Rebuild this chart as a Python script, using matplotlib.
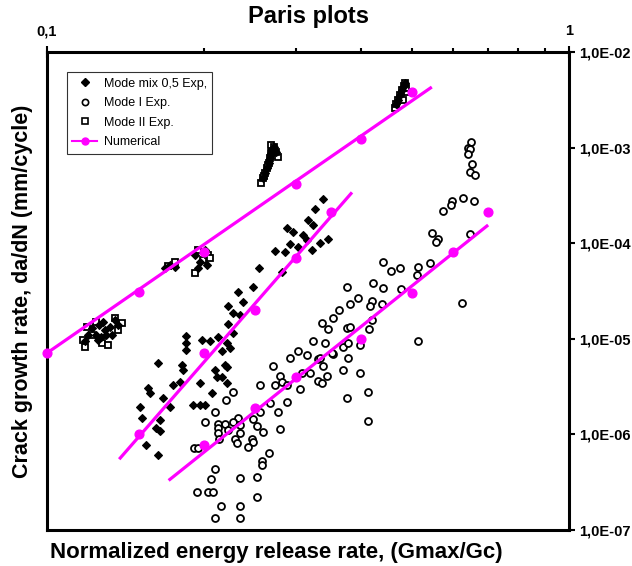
import numpy as np
import matplotlib
matplotlib.use("Agg")
from matplotlib import pyplot as plt
from matplotlib.lines import Line2D
from matplotlib.ticker import FixedLocator, NullLocator, NullFormatter

plt.rcParams['font.family'] = ['Liberation Sans', 'DejaVu Sans']

# Mode I experimental points (open circles)
mode1_x = [0.648, 0.64, 0.645, 0.64, 0.651, 0.645, 0.662, 0.626, 0.657, 0.596, 0.593, 0.573,
           0.645, 0.546, 0.560, 0.555, 0.623,
           0.44, 0.474, 0.456, 0.513, 0.541, 0.511, 0.421, 0.44, 0.375, 0.476, 0.394, 0.419,
           0.380, 0.415, 0.438, 0.362, 0.353, 0.336, 0.345, 0.375, 0.380, 0.413, 0.419, 0.323,
           0.341, 0.369, 0.377, 0.397, 0.513, 0.353, 0.377, 0.302, 0.315, 0.292, 0.330, 0.271,
           0.338, 0.369, 0.397, 0.279, 0.344, 0.319, 0.412, 0.375, 0.412,
           0.333, 0.351, 0.308, 0.282, 0.273, 0.256, 0.288, 0.330, 0.336, 0.305, 0.227, 0.220,
           0.288, 0.267, 0.256, 0.210, 0.277, 0.201, 0.232, 0.227, 0.248, 0.2125, 0.219, 0.2125,
           0.2125, 0.234, 0.252, 0.259, 0.279, 0.222, 0.234, 0.214, 0.229, 0.231, 0.247, 0.248,
           0.2425, 0.191, 0.195, 0.266, 0.258, 0.258, 0.210, 0.206, 0.234, 0.252, 0.252, 0.194,
           0.203, 0.208, 0.215, 0.234, 0.210, 0.234]
mode1_y = [1.15e-3, 9.9e-4, 9.7e-4, 8.6e-4, 6.7e-4, 5.6e-4, 5.2e-4, 3.0e-4, 2.76e-4, 2.76e-4,
           2.5e-4, 2.17e-4, 1.24e-4, 1.27e-4, 1.1e-4, 1.03e-4, 2.37e-5,
           6.4e-5, 5.5e-5, 5.1e-5, 5.6e-5, 6.2e-5, 4.65e-5, 3.8e-5, 3.4e-5, 3.5e-5, 3.3e-5,
           2.7e-5, 2.5e-5, 2.3e-5, 2.2e-5, 2.3e-5, 2.0e-5, 1.65e-5, 1.46e-5, 1.27e-5, 1.3e-5,
           1.33e-5, 1.27e-5, 1.57e-5, 9.5e-6, 9.0e-6, 8.2e-6, 9.0e-6, 8.6e-6, 9.5e-6, 6.9e-6,
           6.3e-6, 7.4e-6, 6.8e-6, 6.3e-6, 6.1e-6, 5.2e-6, 5.2e-6, 4.7e-6, 4.4e-6, 4.1e-6,
           4.1e-6, 4.4e-6, 2.8e-6, 2.4e-6, 1.39e-6,
           6.3e-6, 7.1e-6, 4.4e-6, 3.5e-6, 3.3e-6, 3.3e-6, 3.3e-6, 3.6e-6, 3.45e-6, 3.0e-6,
           2.8e-6, 2.3e-6, 2.18e-6, 2.13e-6, 1.72e-6, 1.72e-6, 1.72e-6, 1.35e-6, 1.49e-6,
           1.35e-6, 1.45e-6, 1.29e-6, 1.29e-6, 1.17e-6, 1.03e-6, 1.26e-6, 1.22e-6, 1.06e-6,
           1.14e-6, 1.11e-6, 1.03e-6, 9.0e-7, 9.0e-7, 8.1e-7, 9.0e-7, 8.3e-7, 7.4e-7, 7.2e-7,
           7.2e-7, 6.4e-7, 5.3e-7, 4.8e-7, 4.35e-7, 3.4e-7, 3.5e-7, 3.6e-7, 2.2e-7, 2.5e-7,
           2.5e-7, 2.5e-7, 1.8e-7, 1.8e-7, 1.33e-7, 1.33e-7]

# Mode mix 0,5 experimental points (filled diamonds)
mix_x = [0.338, 0.326, 0.316, 0.323, 0.288, 0.296, 0.309, 0.315, 0.345, 0.333, 0.292, 0.302,
         0.273, 0.286, 0.322, 0.255, 0.282, 0.248, 0.232, 0.237, 0.222, 0.227, 0.234, 0.222,
         0.227, 0.185, 0.185, 0.185, 0.198, 0.205, 0.2125, 0.221, 0.224, 0.216, 0.181, 0.182,
         0.210, 0.221, 0.216, 0.163, 0.174, 0.156, 0.1575, 0.167, 0.151, 0.172, 0.152, 0.1646,
         0.162, 0.155, 0.1646, 0.163, 0.196, 0.212, 0.219, 0.221, 0.207, 0.190, 0.196, 0.2007,
         0.180,
         0.192, 0.196, 0.201, 0.2025, 0.195, 0.172, 0.176, 0.168,
         0.126, 0.129, 0.132, 0.124, 0.125, 0.120, 0.135, 0.133,
         0.122, 0.128, 0.130, 0.137, 0.127, 0.118,
         0.2591, 0.2614, 0.2637, 0.2661, 0.2673, 0.2685, 0.2697, 0.2721, 0.2745,
         0.4657, 0.4698, 0.4739, 0.4781, 0.4823, 0.4845]
mix_y = [2.9e-4, 2.27e-4, 1.75e-4, 1.55e-4, 1.44e-4, 1.31e-4, 1.21e-4, 1.08e-4, 1.1e-4, 1.0e-4,
         9.8e-5, 9.1e-5, 8.3e-5, 8.1e-5, 8.5e-5, 5.5e-5, 5.0e-5, 3.5e-5, 3.1e-5, 2.4e-5, 2.2e-5,
         1.86e-5, 1.77e-5, 1.43e-5, 1.15e-5, 1.07e-5, 9.0e-6, 7.6e-6, 9.7e-6, 9.5e-6, 1.04e-5,
         9.0e-6, 8.0e-6, 7.45e-6, 5.3e-6, 4.7e-6, 4.7e-6, 5.1e-6, 4.0e-6, 5.6e-6, 3.3e-6,
         3.05e-6, 2.7e-6, 2.4e-6, 1.93e-6, 1.93e-6, 1.49e-6, 1.42e-6, 1.17e-6, 7.8e-7, 1.08e-6,
         6.1e-7, 3.45e-6, 4.0e-6, 5.3e-6, 3.45e-6, 2.7e-6, 2.03e-6, 2.03e-6, 2.03e-6, 3.5e-6,
         7.5e-5, 6.4e-5, 8.5e-5, 5.9e-5, 5.5e-5, 5.9e-5, 5.6e-5, 5.5e-5,
         1.39e-5, 1.24e-5, 1.33e-5, 1.1e-5, 9.7e-6, 1.1e-5, 1.57e-5, 1.1e-5,
         1.3e-5, 1.5e-5, 1.1e-5, 1.4e-5, 1.05e-5, 9.5e-6,
         4.8e-4, 5.42e-4, 6.12e-4, 6.88e-4, 7.76e-4, 8.78e-4, 9.67e-4, 1.01e-3, 9.0e-4,
         2.86e-3, 3.15e-3, 3.56e-3, 4.01e-3, 4.41e-3, 4.74e-3]

# Mode II experimental points (open squares)
mode2_x = [0.1183, 0.1275, 0.1392, 0.1194, 0.135, 0.122, 0.1172, 0.1309, 0.1368, 0.1242,
           0.192, 0.1989, 0.2034, 0.1946, 0.1704, 0.1758, 0.2052,
           0.2568, 0.2591, 0.2614, 0.2637, 0.2661, 0.2673, 0.2685, 0.2697, 0.2685, 0.2721,
           0.2769, 0.2745, 0.2602, 0.2649,
           0.4636, 0.4657, 0.4698, 0.4739, 0.4781, 0.4823, 0.4845, 0.4802, 0.4888, 0.4866]
mode2_y = [8.2e-6, 9.0e-6, 1.46e-5, 1.33e-5, 1.65e-5, 1.1e-5, 9.7e-6, 8.6e-6, 1.24e-5, 1.5e-5,
           4.9e-5, 6.7e-5, 7.5e-5, 8.5e-5, 5.8e-5, 6.4e-5, 7.0e-5,
           4.26e-4, 4.8e-4, 5.42e-4, 6.12e-4, 6.88e-4, 7.76e-4, 8.78e-4, 9.67e-4, 1.06e-3,
           1.01e-3, 7.94e-4, 9.0e-4, 5.04e-4, 6.56e-4,
           2.6e-3, 2.86e-3, 3.15e-3, 3.56e-3, 4.01e-3, 4.41e-3, 4.74e-3, 3.15e-3, 3.82e-3,
           4.2e-3]

# Numerical results (points) and Paris law lines (end points)
num2_x = [0.1, 0.15, 0.2, 0.3, 0.4, 0.5]
num2_y = [7.1e-6, 3.1e-5, 8.1e-5, 4.2e-4, 1.23e-3, 3.8e-3]
fit2_x = [0.1, 0.546]
fit2_y = [7.1e-6, 4.3e-3]

nummix_x = [0.15, 0.2, 0.25, 0.3, 0.35]
nummix_y = [1.0e-6, 7.1e-6, 2.0e-5, 7.0e-5, 2.1e-4]
fitmix_x = [0.1375, 0.384]
fitmix_y = [5.5e-7, 3.4e-4]

num1_x = [0.2, 0.25, 0.3, 0.4, 0.5, 0.6, 0.7]
num1_y = [7.7e-7, 1.9e-6, 4.0e-6, 1.0e-5, 3.0e-5, 8.1e-5, 2.1e-4]
fit1_x = [0.171, 0.70]
fit1_y = [3.3e-7, 1.55e-4]

ytick_vals = [1e-7, 1e-6, 1e-5, 1e-4, 1e-3, 1e-2]
ytick_labels = ["1,0E-07", "1,0E-06", "1,0E-05", "1,0E-04", "1,0E-03", "1,0E-02"]

magenta = '#FF00FF'

fig = plt.figure(figsize=(6.32, 5.66), dpi=100)
ax = fig.add_axes([47/632, 1 - 530/566, 522/632, 478/566])
ax.set_xscale('log')
ax.set_yscale('log')
ax.set_xlim(0.1, 1)
ax.set_ylim(1e-7, 1e-2)

ax.plot(mode1_x, mode1_y, ls='none', marker='o', ms=5, mfc='white', mec='black', mew=1.3, zorder=3)
ax.plot(mode2_x, mode2_y, ls='none', marker='s', ms=4.5, mfc='white', mec='black', mew=1.3, zorder=3)
ax.plot(mix_x, mix_y, ls='none', marker='D', ms=4, mfc='black', mec='black', mew=0.8, zorder=4)

for fx, fy, nx, ny in [(fit2_x, fit2_y, num2_x, num2_y),
                       (fitmix_x, fitmix_y, nummix_x, nummix_y),
                       (fit1_x, fit1_y, num1_x, num1_y)]:
    ax.plot(fx, fy, color=magenta, lw=2.3, zorder=5, solid_capstyle='butt')
    ax.plot(nx, ny, ls='none', marker='o', ms=6.3, color=magenta, zorder=6, clip_on=False)

for s in ax.spines.values():
    s.set_linewidth(2.2)

# x axis: ticks on top, label at bottom
ax.xaxis.tick_top()
ax.xaxis.set_major_locator(FixedLocator([0.1, 1]))
ax.xaxis.set_minor_locator(FixedLocator([0.2, 0.3, 0.4, 0.5, 0.6, 0.7, 0.8, 0.9]))
ax.set_xticklabels(["0,1", "1"], fontsize=10.5, fontweight='bold')
ax.xaxis.set_minor_formatter(NullFormatter())
ax.tick_params(axis='x', which='major', direction='inout', length=8, width=1.5, pad=6)
ax.tick_params(axis='x', which='minor', direction='out', length=3, width=1.5)
ax.xaxis.set_label_position('bottom')
ax.set_xlabel("Normalized energy release rate, (Gmax/Gc)", fontsize=16, fontweight='bold')
ax.xaxis.set_label_coords(0.44, -0.025, transform=ax.transAxes)
ax.xaxis.label.set_va('top')

# y axis: ticks on right, label at left
ax.yaxis.tick_right()
ax.yaxis.set_major_locator(FixedLocator(ytick_vals))
ax.yaxis.set_minor_locator(NullLocator())
ax.set_yticklabels(ytick_labels, fontsize=10.5, fontweight='bold')
ax.tick_params(axis='y', which='major', direction='out', length=4, width=1.5, pad=3)
ax.yaxis.set_label_position('left')
ax.set_ylabel("Crack growth rate, da/dN (mm/cycle)", fontsize=15.5, fontweight='bold', labelpad=10)

fig.text(308/632, 1 - 17/566, "Paris plots", ha='center', va='center', fontsize=17, fontweight='bold')

handles = [
    Line2D([], [], ls='none', marker='D', ms=4, mfc='black', mec='black'),
    Line2D([], [], ls='none', marker='o', ms=4.5, mfc='white', mec='black', mew=1.2),
    Line2D([], [], ls='none', marker='s', ms=4.5, mfc='white', mec='black', mew=1.2),
    Line2D([], [], color=magenta, lw=1.5, marker='o', ms=5),
]
labels = ["Mode mix 0,5 Exp,", "Mode I Exp.", "Mode II Exp.", "Numerical"]
leg = ax.legend(handles, labels, loc='upper left', bbox_to_anchor=(0.038, 0.958),
                borderaxespad=0, fontsize=9, frameon=True, fancybox=False,
                edgecolor='black', handlelength=2.0, labelspacing=0.6,
                handletextpad=0.5, borderpad=0.45)
leg.get_frame().set_linewidth(0.8)

fig.savefig("out.png", dpi=100)
